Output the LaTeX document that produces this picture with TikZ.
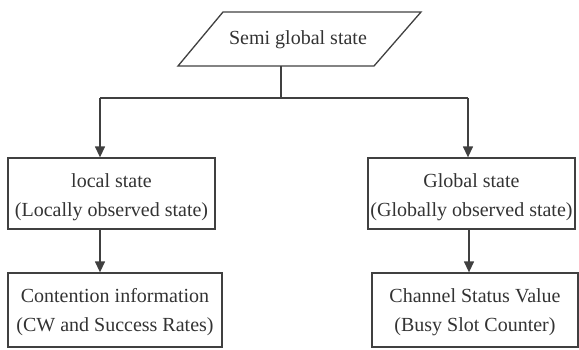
\documentclass[tikz,border=0pt]{standalone}
\usepackage{fontspec}
\setmainfont{Liberation Serif}
\usetikzlibrary{arrows.meta}
\begin{document}
\begin{tikzpicture}[x=1pt,y=-1pt,
  line/.style={draw=black!75,line width=1.3pt},
  arr/.style={line,-{Triangle[length=11pt,width=10pt]}},
  box/.style={line,rectangle,inner sep=0pt},
  txt/.style={align=center,text=black!80,font=\fontsize{20}{29}\selectfont,yshift=-4pt},
  lbl/.style={text=black!80,font=\fontsize{20}{24}\selectfont}]
\useasboundingbox (0,0) rectangle (579,349);
% parallelogram
\draw[line] (223,12) -- (421,12) -- (374,66) -- (178,66) -- cycle;
\node[lbl] (semi) at (298,40) {Semi global state};
\coordinate (semib) at (281,66);
\coordinate (junc) at (281,98);
\coordinate (jl) at (100,98);
\coordinate (jr) at (468,98);
% boxes
\node[box,minimum width=207pt,minimum height=71pt,
  label={[txt]center:local state\\(Locally observed state)}] (l1) at (111.5,193.5) {};
\node[box,minimum width=214pt,minimum height=74pt,
  label={[txt,yshift=2pt]center:Contention information\\(CW and Success Rates)}] (l2) at (115,310) {};
\node[box,minimum width=207pt,minimum height=71pt,
  label={[txt]center:Global state\\(Globally observed state)}] (r1) at (471.5,193.5) {};
\node[box,minimum width=206pt,minimum height=74pt,
  label={[txt,yshift=2pt]center:Channel Status Value\\(Busy Slot Counter)}] (r2) at (475,310) {};
% connectors
\draw[line] (semib) -- (junc);
\draw[line] (jl) -- (jr);
\draw[arr] (jl) -- (jl |- l1.north);
\draw[arr] (jr) -- (jr |- r1.north);
\draw[arr] (l1.south -| jl) -- (l2.north -| jl);
\draw[arr] (r1.south -| 469,0) -- (r2.north -| 469,0);
\end{tikzpicture}
\end{document}
